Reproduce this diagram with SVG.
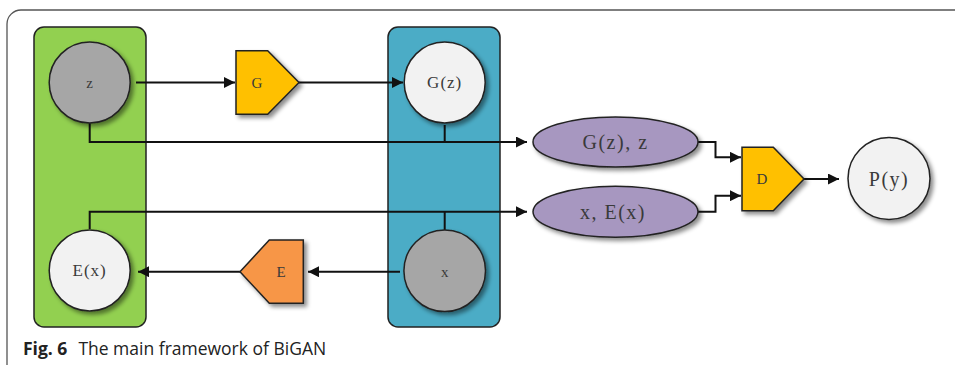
<svg xmlns="http://www.w3.org/2000/svg" width="955" height="365" viewBox="0 0 955 365">
<style>
.frame{fill:#fff;stroke:#555;stroke-width:1.3}
.box{stroke:#222;stroke-width:1.5}
.node{stroke:#222;stroke-width:1.5;filter:url(#sh)}
.lbl{font-family:"Liberation Serif","DejaVu Serif",serif;fill:#3a3a3a;text-anchor:middle;dominant-baseline:central}
.con{fill:none;stroke:#111;stroke-width:2}
.cap{font-family:"Open Sans","Noto Sans",sans-serif;font-size:17.5px;fill:#222}
</style>
<defs>
<filter id="sh" x="-20%" y="-20%" width="150%" height="150%">
<feDropShadow dx="3" dy="3" stdDeviation="2" flood-color="#000" flood-opacity="0.45"/>
</filter>
<marker id="ah" viewBox="0 0 10 10" refX="10" refY="5" markerWidth="5.5" markerHeight="5.5" orient="auto" markerUnits="strokeWidth">
<path d="M0,0 L10,5 L0,10 z" fill="#111"/>
</marker>
</defs>
<rect class="frame" x="7" y="10" width="970" height="372" rx="14"/>
<g id="groupZ"><rect class="box" x="34" y="27" width="112" height="300" rx="10" fill="#92d050"/></g>
<g id="groupX"><rect class="box" x="388" y="27" width="112" height="300" rx="10" fill="#4bacc6"/></g>
<g id="connectors">
<line class="con" x1="136" y1="82.5" x2="235" y2="82.5" marker-end="url(#ah)"/>
<line class="con" x1="299" y1="82.5" x2="403" y2="82.5" marker-end="url(#ah)"/>
<polyline class="con" points="89.7,123 89.7,142 527,142" marker-end="url(#ah)"/>
<line class="con" x1="444.7" y1="125" x2="444.7" y2="142"/>
<polyline class="con" points="89.7,229 89.7,211.7 527,211.7" marker-end="url(#ah)"/>
<line class="con" x1="444.7" y1="230" x2="444.7" y2="211.7"/>
<line class="con" x1="400" y1="271.7" x2="308" y2="271.7" marker-end="url(#ah)"/>
<line class="con" x1="240" y1="271.7" x2="138" y2="271.7" marker-end="url(#ah)"/>
<polyline class="con" points="698,142 715.5,142 715.5,157.3 741,157.3" marker-end="url(#ah)"/>
<polyline class="con" points="698,211.7 715.5,211.7 715.5,195.7 741,195.7" marker-end="url(#ah)"/>
<line class="con" x1="804" y1="179" x2="839" y2="179" marker-end="url(#ah)"/>
</g>
<g id="z"><circle class="node" cx="89.7" cy="82.5" r="40.5" fill="#a6a6a6"/><text class="lbl" x="89.7" y="83" font-size="15">z</text></g>
<g id="G"><polygon class="node" points="236,50.7 267.7,50.7 299,82.5 267.7,114.3 236,114.3" fill="#ffc000"/><text class="lbl" x="257" y="82.5" font-size="15">G</text></g>
<g id="Gz"><circle class="node" cx="444.7" cy="82.5" r="40.5" fill="#f2f2f2"/><text class="lbl" x="444.7" y="82.5" font-size="17" letter-spacing="1">G(z)</text></g>
<g id="Gzz"><ellipse class="node" cx="615.5" cy="142" rx="82.5" ry="25" fill="#a797c0"/><text class="lbl" x="615.5" y="142" font-size="20" letter-spacing="1.5">G(z), z</text></g>
<g id="xEx"><ellipse class="node" cx="615.5" cy="211.7" rx="82.5" ry="25.5" fill="#a797c0"/><text class="lbl" x="613" y="211.7" font-size="20" letter-spacing="1.5">x, E(x)</text></g>
<g id="D"><polygon class="node" points="742,147.3 773.3,147.3 804,179 773.3,210.7 742,210.7" fill="#ffc000"/><text class="lbl" x="762" y="179" font-size="15">D</text></g>
<g id="Py"><circle class="node" cx="889" cy="178.5" r="41" fill="#f2f2f2"/><text class="lbl" x="889" y="178.5" font-size="20" letter-spacing="1.5">P(y)</text></g>
<g id="x"><circle class="node" cx="444.7" cy="270.8" r="40.8" fill="#a6a6a6"/><text class="lbl" x="444.7" y="272" font-size="15">x</text></g>
<g id="E"><polygon class="node" points="303.3,240 269.3,240 240,271.7 269.3,303.3 303.3,303.3" fill="#f79646"/><text class="lbl" x="281" y="271.7" font-size="15">E</text></g>
<g id="Ex"><circle class="node" cx="89.7" cy="270.5" r="40.5" fill="#f2f2f2"/><text class="lbl" x="89.7" y="270.5" font-size="17" letter-spacing="1">E(x)</text></g>
<text class="cap" x="23" y="355"><tspan font-weight="bold">Fig. 6</tspan><tspan dx="11">The main framework of BiGAN</tspan></text>
</svg>
